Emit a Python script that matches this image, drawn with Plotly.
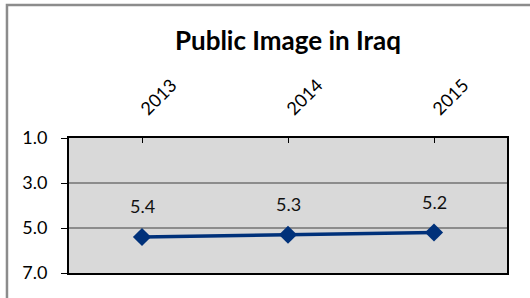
import plotly.graph_objects as go

years = ["2013", "2014", "2015"]
values = [5.4, 5.3, 5.2]
y_ticks = [1, 3, 5, 7]
y_tick_labels = ["1.0", "3.0", "5.0", "7.0"]
title = "Public Image in Iraq"

FONT = "Lato, 'Open Sans', sans-serif"

fig = go.Figure()
fig.add_trace(go.Scatter(
    x=years, y=values, mode="lines+markers",
    line=dict(color="#00317a", width=3.5),
    marker=dict(symbol="diamond", size=14, color="#00317a"),
    hoverinfo="skip", showlegend=False,
))

for i, yv in enumerate(values):
    fig.add_annotation(x=i, y=yv, xref="x", yref="y", text=f"{yv:.1f}",
                       showarrow=False, yshift=31,
                       font=dict(family=FONT, size=18, color="#111"))

fig.add_shape(type="rect", xref="paper", yref="paper",
              x0=-0.1416, x1=1.07, y0=-0.4, y1=1.985,
              line=dict(color="#8c8c8c", width=2.5), layer="below")

fig.update_layout(
    width=530, height=298,
    margin=dict(l=69, r=23, t=138, b=25, autoexpand=False),
    paper_bgcolor="white", plot_bgcolor="#d9d9d9",
    title=dict(text=f"<b>{title}</b>", x=0.5, xref="paper", y=1 - 41/298,
               yref="container", yanchor="middle", xanchor="center",
               font=dict(family=FONT, size=26, color="black")),
    font=dict(family=FONT, color="black"),
)
fig.update_xaxes(
    type="category", side="top", range=[-0.5, 2.5], automargin=False,
    tickangle=-45, tickfont=dict(size=18), ticklabelstandoff=10,
    ticks="inside", ticklen=5, tickcolor="black",
    showgrid=False, showline=True, linecolor="black", linewidth=2, mirror=True,
)
fig.update_yaxes(
    range=[7, 1], tickvals=y_ticks, ticktext=y_tick_labels, automargin=False,
    tickfont=dict(size=18), ticks="outside", ticklen=6, tickcolor="black",
    ticklabelstandoff=10,
    showgrid=True, gridcolor="#8c8c8c", gridwidth=1.5, zeroline=False,
    showline=True, linecolor="black", linewidth=2, mirror=True,
)

fig.write_html("out.html", config={"displayModeBar": False},
               post_script="document.body.style.margin='0';")
